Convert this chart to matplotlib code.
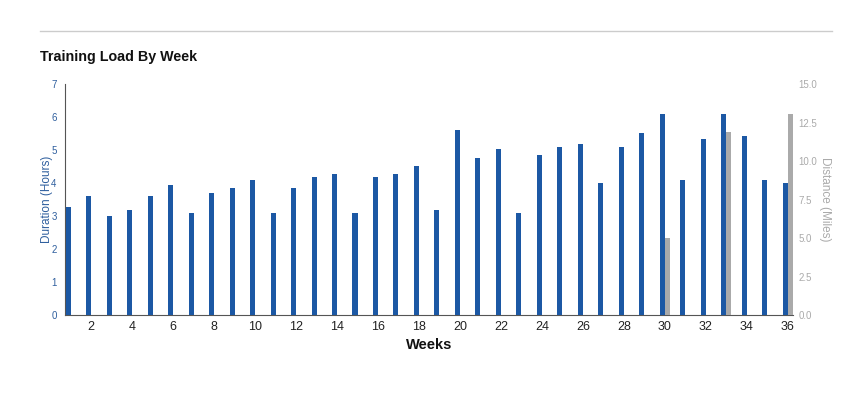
import matplotlib
matplotlib.use("Agg")
import matplotlib.pyplot as plt
from matplotlib.lines import Line2D
import numpy as np

plt.rcParams["font.family"] = ["Liberation Sans", "DejaVu Sans"]

weeks = list(range(1, 37))
duration_hours = [3.26, 3.6, 3.01, 3.18, 3.6, 3.94, 3.1, 3.69, 3.85, 4.1,
                  3.1, 3.85, 4.18, 4.26, 3.1, 4.18, 4.26, 4.51, 3.18, 5.6,
                  4.77, 5.02, 3.1, 4.85, 5.1, 5.18, 4.01, 5.1, 5.51, 6.09,
                  4.1, 5.35, 6.09, 5.43, 4.1, 4.01]
distance_miles = [0] * 29 + [5.0, 0, 0, 11.86, 0, 0, 13.07]

BLUE = "#1c58a4"
GREY = "#aaaaaa"

fig = plt.figure(figsize=(8.46, 3.93), dpi=100)
ax = fig.add_axes([0.0768, 0.1985, 0.8606, 0.5875])
ax2 = ax.twinx()

x = np.array(weeks)
w = 0.245
ax.bar(x - w / 2, duration_hours, width=w, color=BLUE, zorder=3)
ax2.bar(x + w / 2, distance_miles, width=w, color=GREY, zorder=3)

ax.set_xlim(0.72, 36.26)
ax.set_ylim(0, 7)
ax2.set_ylim(0, 15)
ax.set_xticks(range(2, 37, 2))
ax.set_yticks(range(0, 8))
ax2.set_yticks(np.arange(0, 15.1, 2.5))
ax2.set_yticklabels([f"{v:.1f}" for v in np.arange(0, 15.1, 2.5)])

for a in (ax, ax2):
    for s in ("top", "right"):
        a.spines[s].set_visible(False)
ax2.spines["left"].set_visible(False)
ax2.spines["bottom"].set_visible(False)
ax.spines["left"].set_color("#555555")
ax.spines["bottom"].set_color("#555555")

ax.tick_params(axis="y", length=0, labelsize=7, labelcolor="#2f5f9e", pad=6)
ax2.tick_params(axis="y", length=0, labelsize=7, labelcolor="#aaaaaa", pad=4)
ax.tick_params(axis="x", length=0, labelsize=9, labelcolor="#222222", pad=4)

ax.set_ylabel("Duration (Hours)", color="#2f5f9e", fontsize=8.5, labelpad=-1)
ax2.set_ylabel("Distance (Miles)", color="#aaaaaa", fontsize=8.5,
               rotation=270, labelpad=10)
ax.set_xlabel("Weeks", fontsize=10.5, fontweight="bold", color="#111111", labelpad=4)

fig.text(40 / 846, 1 - 57 / 393, "Training Load By Week", fontsize=10.3,
         fontweight="bold", color="#111111", va="center", ha="left")
fig.add_artist(Line2D([40 / 846, 832 / 846], [1 - 31 / 393, 1 - 31 / 393],
                      color="#cccccc", lw=1))

fig.savefig("out.png", dpi=100)
